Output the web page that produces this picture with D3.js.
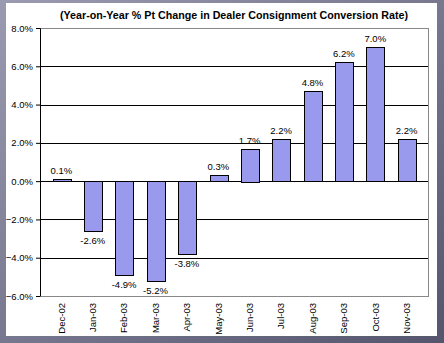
<!DOCTYPE html>
<html>
<head>
<meta charset="utf-8">
<script src="https://cdn.jsdelivr.net/npm/d3@7"></script>
<style>
  body { margin: 0; background: #fff; }
  svg { display: block; font-family: "Liberation Sans", Arial, sans-serif; }
</style>
</head>
<body>
<script>
// chart data
var months = ["Dec-02", "Jan-03", "Feb-03", "Mar-03", "Apr-03", "May-03",
              "Jun-03", "Jul-03", "Aug-03", "Sep-03", "Oct-03", "Nov-03"];
var changes = [0.1, -2.6, -4.9, -5.2, -3.8, 0.3, 1.7, 2.2, 4.7, 6.2, 7.0, 2.2];
var labels = ["0.1%", "-2.6%", "-4.9%", "-5.2%", "-3.8%", "0.3%",
              "1.7%", "2.2%", "4.8%", "6.2%", "7.0%", "2.2%"];
var yTicks = [-6, -4, -2, 0, 2, 4, 6, 8];

var W = 444, H = 343;
var margin = {top: 28, right: 16, bottom: 47, left: 40},
    width = W - margin.left - margin.right,
    height = H - margin.top - margin.bottom;

var fontFam = "Liberation Sans, Arial, sans-serif";

var svg = d3.select("body").append("svg")
    .attr("width", W)
    .attr("height", H);

// window-like frame
var grad = svg.append("defs").append("linearGradient")
    .attr("id", "frame").attr("x1", 0).attr("y1", 0).attr("x2", 1).attr("y2", 1);
grad.append("stop").attr("offset", "0%").attr("stop-color", "#9a9ab0");
grad.append("stop").attr("offset", "100%").attr("stop-color", "#55556e");
svg.append("rect").attr("width", W).attr("height", H).attr("fill", "url(#frame)");
svg.append("rect").attr("x", 6).attr("y", 3).attr("width", W - 13).attr("height", H - 10)
    .attr("fill", "#fff");

svg.append("text")
    .attr("x", 234).attr("y", 19)
    .attr("text-anchor", "middle")
    .attr("font-size", 11).attr("font-weight", "bold")
    .attr("textLength", 348).attr("lengthAdjust", "spacingAndGlyphs")
    .text("(Year-on-Year % Pt Change in Dealer Consignment Conversion Rate)");

var g = svg.append("g")
    .attr("transform", "translate(" + margin.left + "," + margin.top + ")");

var x = d3.scaleBand().domain(months).range([0, width]).paddingInner(0.44).paddingOuter(0.4);
var y = d3.scaleLinear().domain([-6, 8]).range([height, 0]);

// plot area border (top/right)
g.append("rect").attr("x", 0.5).attr("y", 0.5).attr("width", width).attr("height", height)
    .attr("fill", "none").attr("stroke", "#888").attr("stroke-width", 1);

// gridlines
g.selectAll(".grid").data(yTicks.filter(d => d > -6 && d < 8))
  .enter().append("line")
    .attr("x1", 0).attr("x2", width)
    .attr("y1", d => Math.round(y(d)) + 0.5).attr("y2", d => Math.round(y(d)) + 0.5)
    .attr("stroke", "#000");

// bars
g.selectAll(".bar").data(changes)
  .enter().append("rect")
    .attr("x", (d, i) => Math.round(x(months[i])) + 0.5)
    .attr("width", Math.round(x.bandwidth()))
    .attr("y", d => Math.round(y(Math.max(0, d))) + 0.5)
    .attr("height", d => Math.round(Math.abs(y(d) - y(0))))
    .attr("fill", "#9999ee")
    .attr("stroke", "#000");

// value labels
g.selectAll(".lbl").data(changes)
  .enter().append("text")
    .attr("x", (d, i) => x(months[i]) + x.bandwidth() / 2)
    .attr("y", d => d >= 0 ? y(d) - 5 : y(d) + 13)
    .attr("text-anchor", "middle")
    .attr("font-size", 9.5)
    .text((d, i) => labels[i]);

// y axis
var yAxis = g.append("g")
    .call(d3.axisLeft(y).tickValues(yTicks).tickSize(4).tickFormat(d => d3.format(".1f")(d) + "%"));
yAxis.select(".domain").attr("stroke", "#000");
yAxis.selectAll("text").attr("font-size", 9.5).attr("fill", "#000").attr("font-family", fontFam);

// x axis at bottom
var xAxis = g.append("g")
    .attr("transform", "translate(0," + height + ")")
    .call(d3.axisBottom(x).tickSize(0));
xAxis.select(".domain").attr("stroke", "#888");
xAxis.selectAll("text")
    .attr("font-size", 9.5).attr("fill", "#000").attr("font-family", fontFam)
    .attr("transform", "rotate(-90)")
    .attr("text-anchor", "end")
    .attr("dy", "0.35em")
    .attr("x", -7)
    .attr("y", 0);
</script>
</body>
</html>
